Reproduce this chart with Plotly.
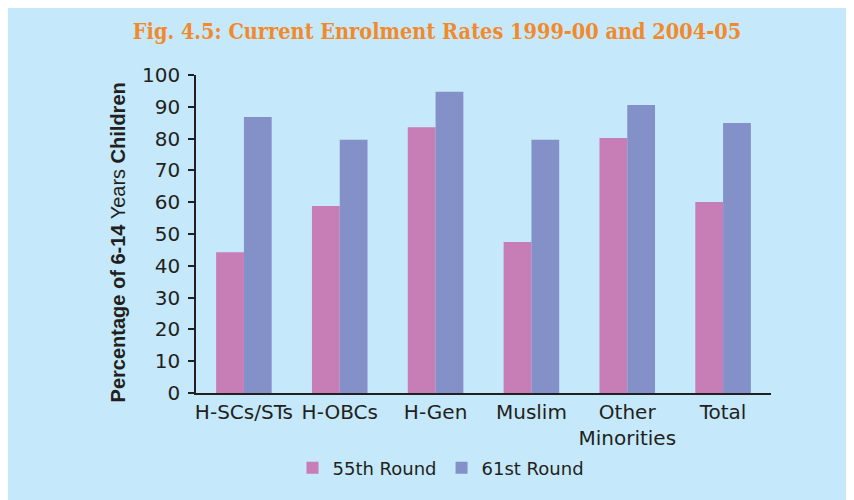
import plotly.graph_objects as go

categories = ["H-SCs/STs", "H-OBCs", "H-Gen", "Muslim", "Other<br>Minorities", "Total"]
round55 = [44.3, 58.8, 83.6, 47.5, 80.2, 60.1]
round61 = [86.8, 79.6, 94.7, 79.6, 90.6, 84.9]
series_names = ["55th Round", "61st Round"]
y_ticks = [0, 10, 20, 30, 40, 50, 60, 70, 80, 90, 100]

BG = "#C5E9FA"
PINK = "#C77DB5"
BLUE = "#8391C8"
TXT = "#231F20"

W, H = 854, 500
OFF = 8  # page body margin
L, R, T = 196 - OFF, W - (771 - OFF), 75 - OFF
B = H - (393 - OFF)
pw, ph = W - L - R, H - T - B

fig = go.Figure()
fig.add_bar(x=categories, y=round55, name=series_names[0], marker_color=PINK, marker_line_width=0)
fig.add_bar(x=categories, y=round61, name=series_names[1], marker_color=BLUE, marker_line_width=0)

fig.update_layout(
    width=W, height=H,
    margin=dict(l=L, r=R, t=T, b=B),
    paper_bgcolor=BG, plot_bgcolor=BG,
    barmode="group", bargap=0.42, bargroupgap=0,
    font=dict(family="DejaVu Sans", size=18, color=TXT),
    title=dict(
        text="<b>Fig. 4.5: Current Enrolment Rates 1999-00 and 2004-05</b>",
        font=dict(family="DejaVu Serif Condensed, DejaVu Serif", size=21.5, color="#F28A2C"),
        x=(437 - OFF) / W, xanchor="center", y=1 - (31 - OFF) / H, yanchor="middle",
    ),
    xaxis=dict(
        showline=True, linecolor=TXT, linewidth=1.5,
        ticks="", tickfont=dict(size=20), showgrid=False,
        range=[-0.5, 5.5],
    ),
    yaxis=dict(
        range=[0, 100], tickvals=y_ticks, showgrid=False, zeroline=False,
        showline=True, linecolor=TXT, linewidth=1.5,
        ticks="outside", ticklen=6, tickcolor=TXT, tickwidth=1.5,
        tickfont=dict(size=20), ticklabelstandoff=4,
        title=dict(
            text="<b>Percentage of 6-14</b> Years <b>Children</b>&nbsp;&nbsp;&nbsp;",
            font=dict(family="Liberation Sans Narrow, Liberation Sans", size=20, color=TXT),
            standoff=11,
        ),
    ),
    legend=dict(
        orientation="h", x=(441 - OFF - L) / pw, xanchor="center",
        y=(393 - 468) / ph, yanchor="middle",
        font=dict(size=18), bgcolor="rgba(0,0,0,0)",
        itemwidth=30, traceorder="normal",
    ),
    showlegend=True,
)

fig.write_html("out.html")
